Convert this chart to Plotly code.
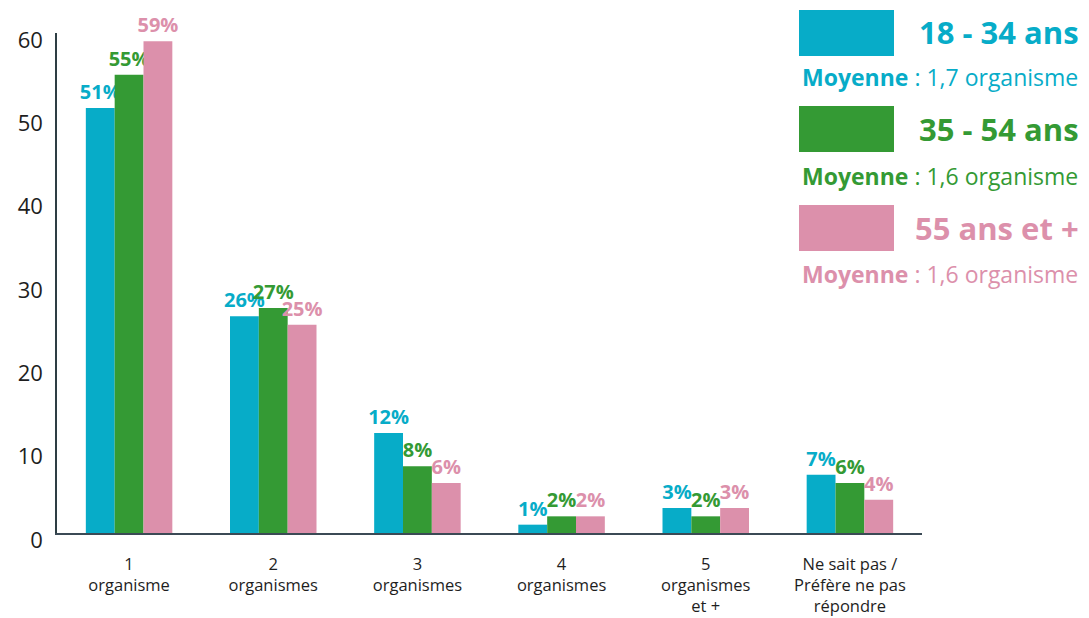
import plotly.graph_objects as go

categories = ["1<br>organisme", "2<br>organismes", "3<br>organismes", "4<br>organismes",
              "5<br>organismes<br>et +", "Ne sait pas /<br>Préfère ne pas<br>répondre"]
series_names = ["18 - 34 ans", "35 - 54 ans", "55 ans et +"]
v_18_34 = [51, 26, 12, 1, 3, 7]
v_35_54 = [55, 27, 8, 2, 2, 6]
v_55_plus = [59, 25, 6, 2, 3, 4]
moyennes = ["1,7", "1,6", "1,6"]
colors = ["#07acc8", "#349a34", "#dc90ab"]
y_ticks = [0, 10, 20, 30, 40, 50, 60]

W, H = 1089, 618
L, R, T, B = 57, 167, 33, 85
PW, PH = W - L - R, H - T - B

def px(x):
    return (x - L) / PW

def py(y):
    return (H - B - y) / PH

FONT = "Open Sans"

fig = go.Figure()
for name, vals, col in zip(series_names, [v_18_34, v_35_54, v_55_plus], colors):
    fig.add_trace(go.Bar(
        x=categories, y=vals, name=name, marker_color=col, marker_line_width=0,
        texttemplate="%{y}%", textposition="outside", cliponaxis=False,
        constraintext="none",
        textfont=dict(family=FONT, size=20, color=col, weight="bold"),
        showlegend=False,
    ))

fig.update_layout(
    width=W, height=H, margin=dict(l=L, r=R, t=T, b=B, autoexpand=False),
    paper_bgcolor="white", plot_bgcolor="white",
    barmode="group", bargap=0.4, bargroupgap=0,
    font=dict(family=FONT, color="#1e1e1e"),
    xaxis=dict(showline=True, linecolor="#3b4a55", linewidth=1.5, ticks="",
               tickfont=dict(family=FONT, size=16.5, color="#1e1e1e"), showgrid=False,
               ticklabelstandoff=15),
    yaxis=dict(range=[0, 60], tickvals=y_ticks, showline=True, linecolor="#2e3e44", linewidth=1.5,
               ticks="", showgrid=False, zeroline=False,
               tickfont=dict(family=FONT, size=22, color="#1e1e1e"),
               ticklabelstandoff=8, ticklabelshift=7),
)

box_tops = [10, 106, 205]
title_y = [32, 129, 228]
moy_y = [77, 176, 274]
for i in range(3):
    fig.add_shape(type="rect", xref="paper", yref="paper",
                  x0=px(799), x1=px(894), y0=py(box_tops[i] + 46), y1=py(box_tops[i]),
                  fillcolor=colors[i], line_width=0)
    fig.add_annotation(xref="paper", yref="paper", x=px(1081), y=py(title_y[i]),
                       xanchor="right", yanchor="middle", showarrow=False,
                       text="<b>%s</b>" % series_names[i],
                       font=dict(family=FONT, size=31, color=colors[i]))
    fig.add_annotation(xref="paper", yref="paper", x=px(800), y=py(moy_y[i]),
                       xanchor="left", yanchor="middle", showarrow=False,
                       text="<b>Moyenne</b> : %s organisme" % moyennes[i],
                       font=dict(family=FONT, size=23, color=colors[i]))

fig.write_html("out.html", config={"displayModeBar": False},
               post_script="document.body.style.margin='0px';")
